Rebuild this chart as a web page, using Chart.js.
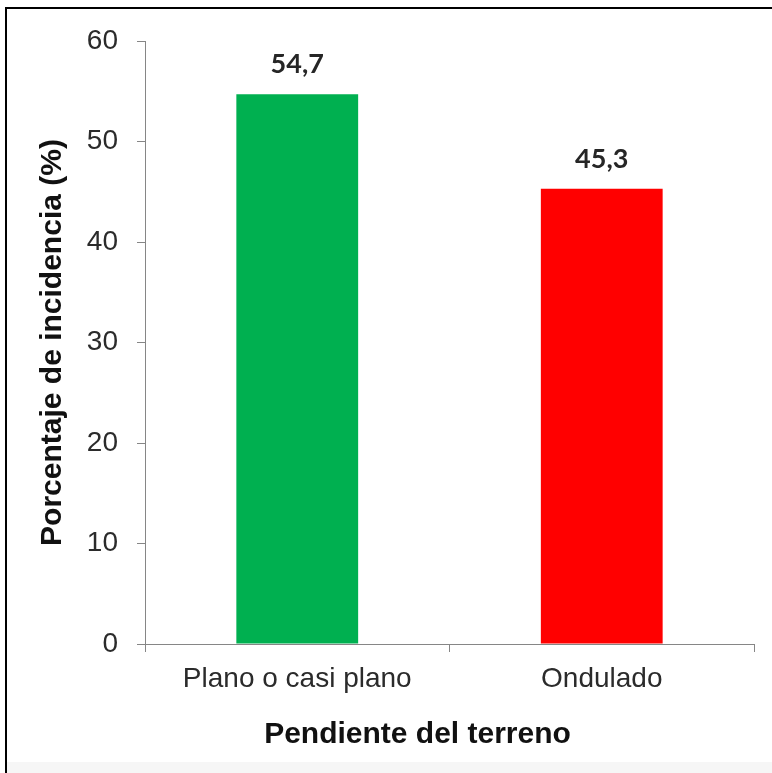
<!DOCTYPE html>
<html lang="es">
<head>
<meta charset="utf-8">
<title>Incidencia según pendiente del terreno</title>
<script src="https://cdn.jsdelivr.net/npm/chart.js@4.4.1/dist/chart.umd.min.js"></script>
<style>
  html, body { margin: 0; padding: 0; background: #ffffff; }
  body { width: 772px; height: 773px; position: relative; overflow: hidden; }
  .frame {
    position: absolute; left: 5px; top: 7px; width: 800px; height: 800px;
    border-left: 2px solid #000; border-top: 2px solid #000;
  }
  .shade {
    position: absolute; left: 7px; top: 762px; width: 765px; height: 11px;
    background: #f6f6f6;
  }
  canvas { position: absolute; left: 0; top: 0; }
</style>
</head>
<body>
<div class="frame"></div>
<div class="shade"></div>
<canvas id="chart" width="772" height="773"></canvas>
<script>
// Categories, values and tick labels
const categories = ['Plano o casi plano', 'Ondulado'];
const incidence = [54.7, 45.3];
const barColors = ['#00B050', '#FF0000'];
const yTicks = [0, 10, 20, 30, 40, 50, 60];
const yTitle = 'Porcentaje de incidencia (%)';
const xTitle = 'Pendiente del terreno';

const axisGray = '#868686';
const tickText = '#2b2b2b';

// Value labels above each bar, decimal comma
const valueLabels = {
  id: 'valueLabels',
  afterDatasetsDraw(chart) {
    const ctx = chart.ctx;
    const meta = chart.getDatasetMeta(0);
    ctx.save();
    ctx.font = 'bold 27px Lato, "Liberation Sans", sans-serif';
    ctx.fillStyle = '#262626';
    ctx.textAlign = 'center';
    ctx.textBaseline = 'alphabetic';
    meta.data.forEach((bar, i) => {
      const v = chart.data.datasets[0].data[i];
      ctx.fillText(String(v).replace('.', ','), bar.x, bar.y - 21);
    });
    ctx.restore();
  }
};

// Category-axis title, set slightly left of the plot centre
const xAxisTitle = {
  id: 'xAxisTitle',
  afterDraw(chart) {
    const ctx = chart.ctx;
    const area = chart.chartArea;
    ctx.save();
    ctx.font = 'bold 30px "Liberation Sans", Arial, sans-serif';
    ctx.fillStyle = '#111111';
    ctx.textAlign = 'center';
    ctx.textBaseline = 'alphabetic';
    ctx.fillText(xTitle, (area.left + area.right) / 2 - 32, 743);
    ctx.restore();
  }
};

new Chart(document.getElementById('chart'), {
  type: 'bar',
  data: {
    labels: categories,
    datasets: [{
      data: incidence,
      backgroundColor: barColors,
      borderWidth: 0,
      categoryPercentage: 1.0,
      barPercentage: 0.4
    }]
  },
  options: {
    responsive: false,
    animation: false,
    events: [],
    layout: { padding: { left: 0, right: 18, top: 41, bottom: 0 } },
    plugins: {
      legend: { display: false },
      tooltip: { enabled: false },
      title: { display: false }
    },
    scales: {
      x: {
        type: 'category',
        offset: true,
        grid: {
          offset: true,
          drawOnChartArea: false,
          drawTicks: true,
          tickLength: 8,
          color: axisGray,
          lineWidth: 1
        },
        border: { display: true, color: axisGray, width: 1 },
        ticks: {
          color: tickText,
          padding: 10,
          font: { family: '"Liberation Sans", Arial, sans-serif', size: 28 }
        },
        afterFit(scale) { scale.height = 129; }
      },
      y: {
        min: 0,
        max: 60,
        afterBuildTicks(scale) {
          scale.ticks = yTicks.map(v => ({ value: v }));
        },
        grid: {
          drawOnChartArea: false,
          drawTicks: true,
          tickLength: 8,
          color: axisGray,
          lineWidth: 1
        },
        border: { display: true, color: axisGray, width: 1 },
        ticks: {
          color: tickText,
          padding: 19,
          font: { family: '"Liberation Sans", Arial, sans-serif', size: 28 }
        },
        title: {
          display: true,
          text: yTitle,
          color: '#111111',
          padding: { top: 35, bottom: 0 },
          font: { family: '"Liberation Sans", Arial, sans-serif', size: 30, weight: 'bold' }
        },
        afterFit(scale) { scale.width = 145; }
      }
    }
  },
  plugins: [valueLabels, xAxisTitle]
});
</script>
</body>
</html>
